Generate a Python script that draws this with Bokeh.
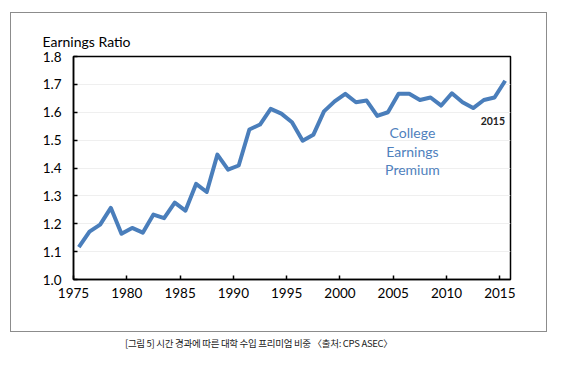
from bokeh.plotting import figure
from bokeh.models import Range1d, FixedTicker, Label, Title, Div, ColumnDataSource, NumeralTickFormatter
from bokeh.layouts import column
from bokeh.transform import dodge
from bokeh.embed import file_html
from bokeh.resources import INLINE

years = list(range(1975, 2016))
ratio = [1.116, 1.172, 1.197, 1.257, 1.164, 1.185, 1.168, 1.233, 1.220, 1.276,
         1.247, 1.343, 1.314, 1.448, 1.394, 1.409, 1.538, 1.556, 1.612, 1.595,
         1.564, 1.498, 1.519, 1.603, 1.639, 1.666, 1.636, 1.642, 1.587, 1.600,
         1.666, 1.666, 1.644, 1.653, 1.624, 1.668, 1.636, 1.615, 1.644, 1.653,
         1.713]
x_ticks = [1975, 1980, 1985, 1990, 1995, 2000, 2005, 2010, 2015]
y_ticks = [1.0, 1.1, 1.2, 1.3, 1.4, 1.5, 1.6, 1.7, 1.8]

FONT = "Lato"
BLUE = "#4a7ebb"

p = figure(width=535, height=318, output_backend="svg", toolbar_location=None,
           x_range=Range1d(1975, 2016), y_range=Range1d(1.0, 1.8),
           min_border_left=62, min_border_right=36, min_border_top=43, min_border_bottom=52,
           margin=(13, 0, 0, 11))
p.styles = {"outline": "1.5px solid #8c8c8c"}
p.background_fill_color = "white"
p.border_fill_color = "white"
p.outline_line_color = "black"
p.outline_line_width = 1.5

src = ColumnDataSource(dict(year=years, ratio=ratio))
p.line(x=dodge("year", 0.5, range=p.x_range), y="ratio", source=src,
       line_color=BLUE, line_width=4, line_join="round")

p.xaxis.ticker = FixedTicker(ticks=x_ticks)
p.yaxis.ticker = FixedTicker(ticks=y_ticks)
p.yaxis.formatter = NumeralTickFormatter(format="0.0")
for ax in (p.xaxis[0], p.yaxis[0]):
    ax.axis_line_color = "black"
    ax.axis_line_width = 1.5
    ax.major_tick_line_color = "black"
    ax.major_tick_line_width = 1.5
    ax.major_tick_in = 4
    ax.major_tick_out = 0
    ax.minor_tick_line_color = None
    ax.major_label_text_font = FONT
    ax.major_label_text_font_size = "13.5px"
    ax.major_label_text_color = "black"
p.xaxis.major_label_standoff = 8
p.yaxis.major_label_standoff = 12
p.xgrid.grid_line_color = None
p.ygrid.grid_line_color = "#efefef"
p.ygrid.grid_line_width = 1

p.add_layout(Title(text="Earnings Ratio", text_font=FONT, text_font_size="14px",
                   text_font_style="normal", text_color="black", align="left",
                   offset=-31, standoff=14), "above")

for t, yy in (("College", 1.528), ("Earnings", 1.459), ("Premium", 1.394)):
    p.add_layout(Label(x=2006.8, y=yy, text=t, text_font=FONT, text_font_size="14px",
                       text_color="#4f81bd", text_align="center", text_baseline="middle"))

p.add_layout(Label(x=2014.34, y=1.567, text="2015", text_font=FONT, text_font_size="10.5px",
                   text_font_style="bold", text_color="#222222", text_align="center",
                   text_baseline="middle"))

caption = Div(text="[그림 5] 시간 경과에 따른 대학 수입 프리미엄 비중 〈출처: CPS ASEC〉",
              styles={"font-family": "Noto Sans CJK KR", "font-size": "9.5px",
                      "color": "#222222", "white-space": "nowrap", "letter-spacing": "-0.3px"},
              margin=(6, 0, 0, 125))

layout = column(p, caption, spacing=0)
open("out.html", "w").write(file_html(layout, INLINE))
